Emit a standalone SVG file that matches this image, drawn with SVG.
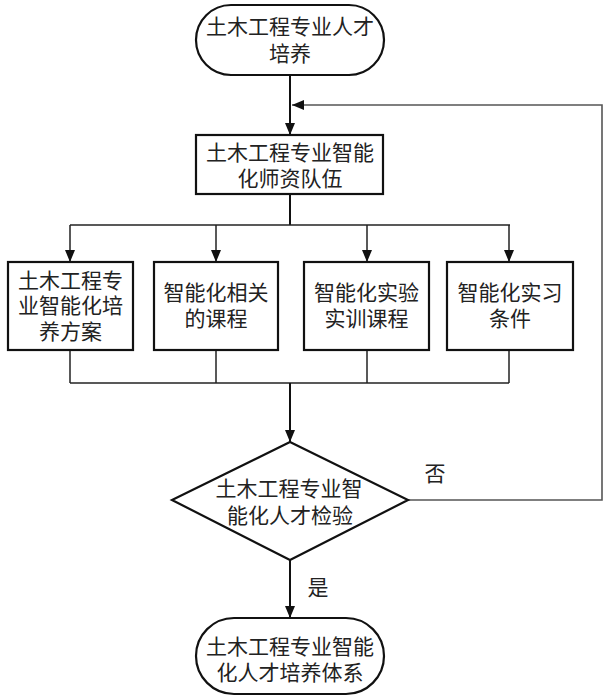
<svg xmlns="http://www.w3.org/2000/svg" width="603" height="696" viewBox="0 0 603 696">
<style>
.node{fill:#fff;stroke:#111;stroke-width:2.2}
.t{font-family:"Noto Sans CJK SC","Noto Sans",sans-serif;font-size:21px;fill:#222;text-anchor:middle}
.c{fill:none;stroke:#111;stroke-width:2}
.b{fill:none;stroke:#222;stroke-width:1.5}
.f{fill:none;stroke:#555;stroke-width:1.6}
</style>
<defs>
<marker id="ah" viewBox="0 0 12 10" refX="12" refY="5" markerWidth="12" markerHeight="10" markerUnits="userSpaceOnUse" orient="auto">
<path d="M0,0 L12,5 L0,10 Z" fill="#111"/>
</marker>
</defs>
<rect width="603" height="696" fill="#fff"/>
<g id="connectors">
<line class="c" x1="290" y1="75" x2="290" y2="135" marker-end="url(#ah)"/>
<polyline class="f" points="408,500 602,500 602,105 292,105" marker-end="url(#ah)"/>
<line class="c" x1="290" y1="194" x2="290" y2="225"/>
<line class="b" x1="70" y1="225" x2="510" y2="225"/>
<line class="b" x1="70" y1="225" x2="70" y2="262" marker-end="url(#ah)"/>
<line class="b" x1="216" y1="225" x2="216" y2="262" marker-end="url(#ah)"/>
<line class="b" x1="367" y1="225" x2="367" y2="262" marker-end="url(#ah)"/>
<line class="b" x1="509" y1="225" x2="509" y2="262" marker-end="url(#ah)"/>
<line class="b" x1="70" y1="350" x2="70" y2="383"/>
<line class="b" x1="216" y1="350" x2="216" y2="383"/>
<line class="b" x1="367" y1="350" x2="367" y2="383"/>
<line class="b" x1="509" y1="350" x2="509" y2="383"/>
<line class="b" x1="70" y1="383" x2="509" y2="383"/>
<line class="c" x1="290" y1="383" x2="290" y2="442" marker-end="url(#ah)"/>
<line class="c" x1="290" y1="560" x2="290" y2="618" marker-end="url(#ah)"/>
<text class="t" x="435" y="481">否</text>
<text class="t" x="318" y="595">是</text>
</g>
<g id="start">
<rect class="node" x="196" y="5" width="188" height="70" rx="35"/>
<text class="t" x="290" y="34">土木工程专业人才</text>
<text class="t" x="290" y="61">培养</text>
</g>
<g id="faculty">
<rect class="node" x="196" y="135" width="187" height="59"/>
<text class="t" x="290" y="160">土木工程专业智能</text>
<text class="t" x="290" y="186">化师资队伍</text>
</g>
<g id="plan">
<rect class="node" x="8" y="262" width="125" height="88"/>
<text class="t" x="70.5" y="288">土木工程专</text>
<text class="t" x="70.5" y="313">业智能化培</text>
<text class="t" x="70.5" y="339">养方案</text>
</g>
<g id="courses">
<rect class="node" x="154" y="262" width="124" height="88"/>
<text class="t" x="216" y="300">智能化相关</text>
<text class="t" x="216" y="326">的课程</text>
</g>
<g id="lab">
<rect class="node" x="304" y="262" width="125" height="88"/>
<text class="t" x="366.5" y="300">智能化实验</text>
<text class="t" x="366.5" y="326">实训课程</text>
</g>
<g id="internship">
<rect class="node" x="447" y="262" width="126" height="88"/>
<text class="t" x="510" y="300">智能化实习</text>
<text class="t" x="510" y="326">条件</text>
</g>
<g id="check">
<polygon class="node" points="290,442 408,500 290,560 172,500"/>
<text class="t" x="289" y="496">土木工程专业智</text>
<text class="t" x="290" y="523">能化人才检验</text>
</g>
<g id="end">
<rect class="node" x="196" y="618" width="188" height="76" rx="38"/>
<text class="t" x="290" y="654">土木工程专业智能</text>
<text class="t" x="290" y="680">化人才培养体系</text>
</g>
</svg>
